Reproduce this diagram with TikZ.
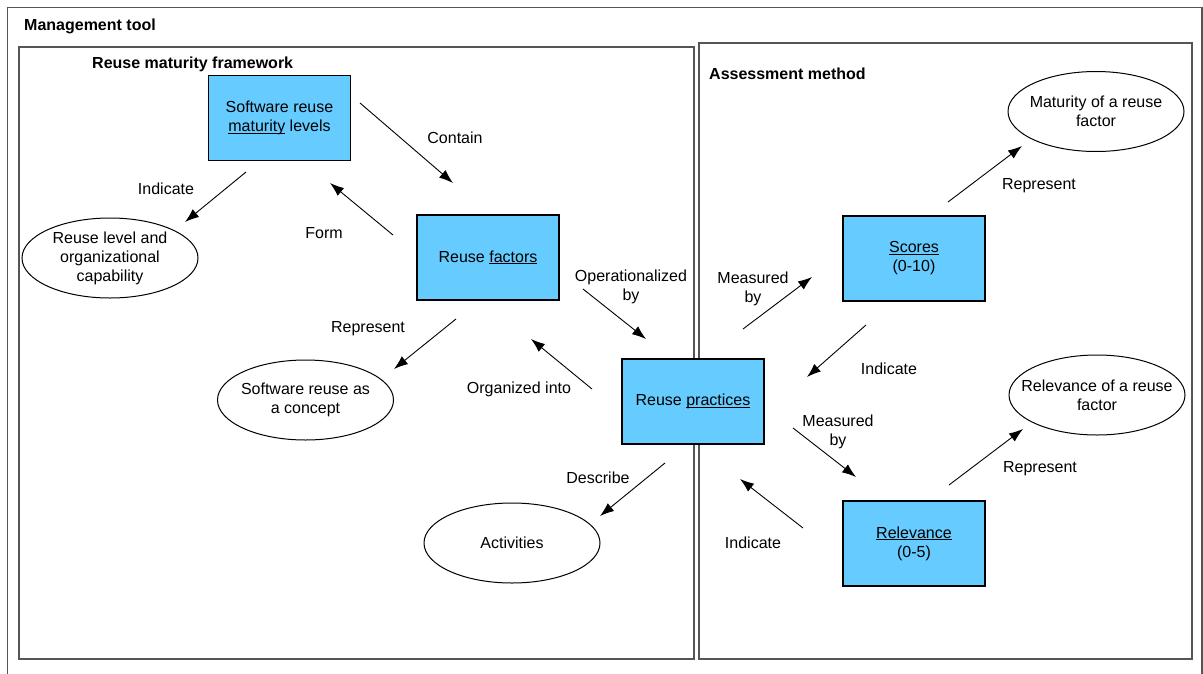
\documentclass[tikz,border=0pt]{standalone}
\usepackage{fontspec}
\setmainfont{Liberation Sans}
\usetikzlibrary{shapes.geometric,arrows.meta}
\definecolor{boxblue}{HTML}{66CCFF}
\definecolor{framegray}{HTML}{555555}
\newsavebox\ulbox
\newcommand\myul[1]{\sbox\ulbox{#1}\rlap{\rule[-2.2pt]{\wd\ulbox}{0.9pt}}\usebox\ulbox}
\tikzset{
  frame/.style={draw=framegray,line width=1.2pt},
  bluebox/.style={draw=black,fill=boxblue,line width=1.2pt,minimum width=142pt,minimum height=85pt,align=center,inner sep=0pt},
  oval/.style={draw=black,ellipse,line width=1pt,minimum width=176pt,minimum height=80pt,inner sep=0pt},
  conn/.style={draw=black,line width=0.9pt,-{Latex[length=14pt,width=10pt]}},
  lbl/.style={align=center,inner sep=0pt},
  ttl/.style={font=\fontsize{16}{19}\selectfont\bfseries,inner sep=0pt,anchor=west},
}
\begin{document}
\begin{tikzpicture}[x=1pt,y=-1pt,font=\fontsize{16}{19}\selectfont]
\useasboundingbox (0,0) rectangle (1203,673);
\fill[white] (0,0) rectangle (1203,673);
% frames
\draw[frame] (7.5,690) -- (7.5,7.5) -- (1202,7.5) -- (1202,690);
\draw[frame] (19,47) rectangle (694,659);
\draw[frame] (699,43) rectangle (1192,659);
\node[ttl] (t1) at (24,26) {Management tool};
\node[ttl] (t2) at (92,64) {Reuse maturity framework};
\node[ttl] (t3) at (709,74) {Assessment method};
% boxes
\node[bluebox] (levels) at (279.5,118) {Software reuse\\\myul{maturity} levels};
\node[bluebox] (factors) at (488,257.5) {Reuse \myul{factors}};
\node[bluebox] (practices) at (693,401.5) {Reuse \myul{practices}};
\node[bluebox] (scores) at (914,258.5) {\myul{Scores}\\(0-10)};
\node[bluebox] (relevance) at (914,543.5) {\myul{Relevance}\\(0-5)};
% ellipses
\node[oval,label={[lbl]center:Reuse level and\\organizational\\capability}] (capab) at (110,258) {};
\node[oval,label={[lbl]center:Software reuse as\\a concept}] (concept) at (305.5,400) {};
\node[oval,label={[lbl]center:Activities}] (activ) at (512,543) {};
\node[oval,label={[lbl]center:Maturity of a reuse\\factor}] (matur) at (1096,111.5) {};
\node[oval,label={[lbl]center:Relevance of a reuse\\factor}] (relev) at (1097,395) {};
% arrow end points
\coordinate (a1s) at (360,103);  \coordinate (a1e) at (453,183);
\coordinate (a2s) at (246,172);  \coordinate (a2e) at (185,222);
\coordinate (a3s) at (393,235);  \coordinate (a3e) at (330,183);
\coordinate (a4s) at (456,319);  \coordinate (a4e) at (394,369);
\coordinate (a5s) at (583,289);  \coordinate (a5e) at (646,339);
\coordinate (a6s) at (592,389);  \coordinate (a6e) at (531,339);
\coordinate (a7s) at (665,463);  \coordinate (a7e) at (600,516);
\coordinate (a8s) at (743,329);  \coordinate (a8e) at (812,277);
\coordinate (a9s) at (948,202);  \coordinate (a9e) at (1022,146);
\coordinate (a10s) at (866,325); \coordinate (a10e) at (807,377);
\coordinate (a11s) at (793,428); \coordinate (a11e) at (856,477);
\coordinate (a12s) at (949,485); \coordinate (a12e) at (1023,429);
\coordinate (a13s) at (803,528); \coordinate (a13e) at (740,479);
\foreach \i in {1,...,13} {\draw[conn] (a\i s) -- (a\i e);}
% labels
\node[lbl] (l1) at (455,138) {Contain};
\node[lbl] (l2) at (166,189) {Indicate};
\node[lbl] (l3) at (324,233) {Form};
\node[lbl] (l4) at (368,329) {Represent};
\node[lbl] (l5) at (631,287) {Operationalized\\by};
\node[lbl] (l6) at (519,389) {Organized into};
\node[lbl] (l7) at (598,478) {Describe};
\node[lbl] (l8) at (753,289) {Measured\\by};
\node[lbl] (l9) at (1039,186) {Represent};
\node[lbl] (l10) at (889,369) {Indicate};
\node[lbl] (l11) at (838,432) {Measured\\by};
\node[lbl] (l12) at (1040,469) {Represent};
\node[lbl] (l13) at (753,543) {Indicate};
\end{tikzpicture}
\end{document}
